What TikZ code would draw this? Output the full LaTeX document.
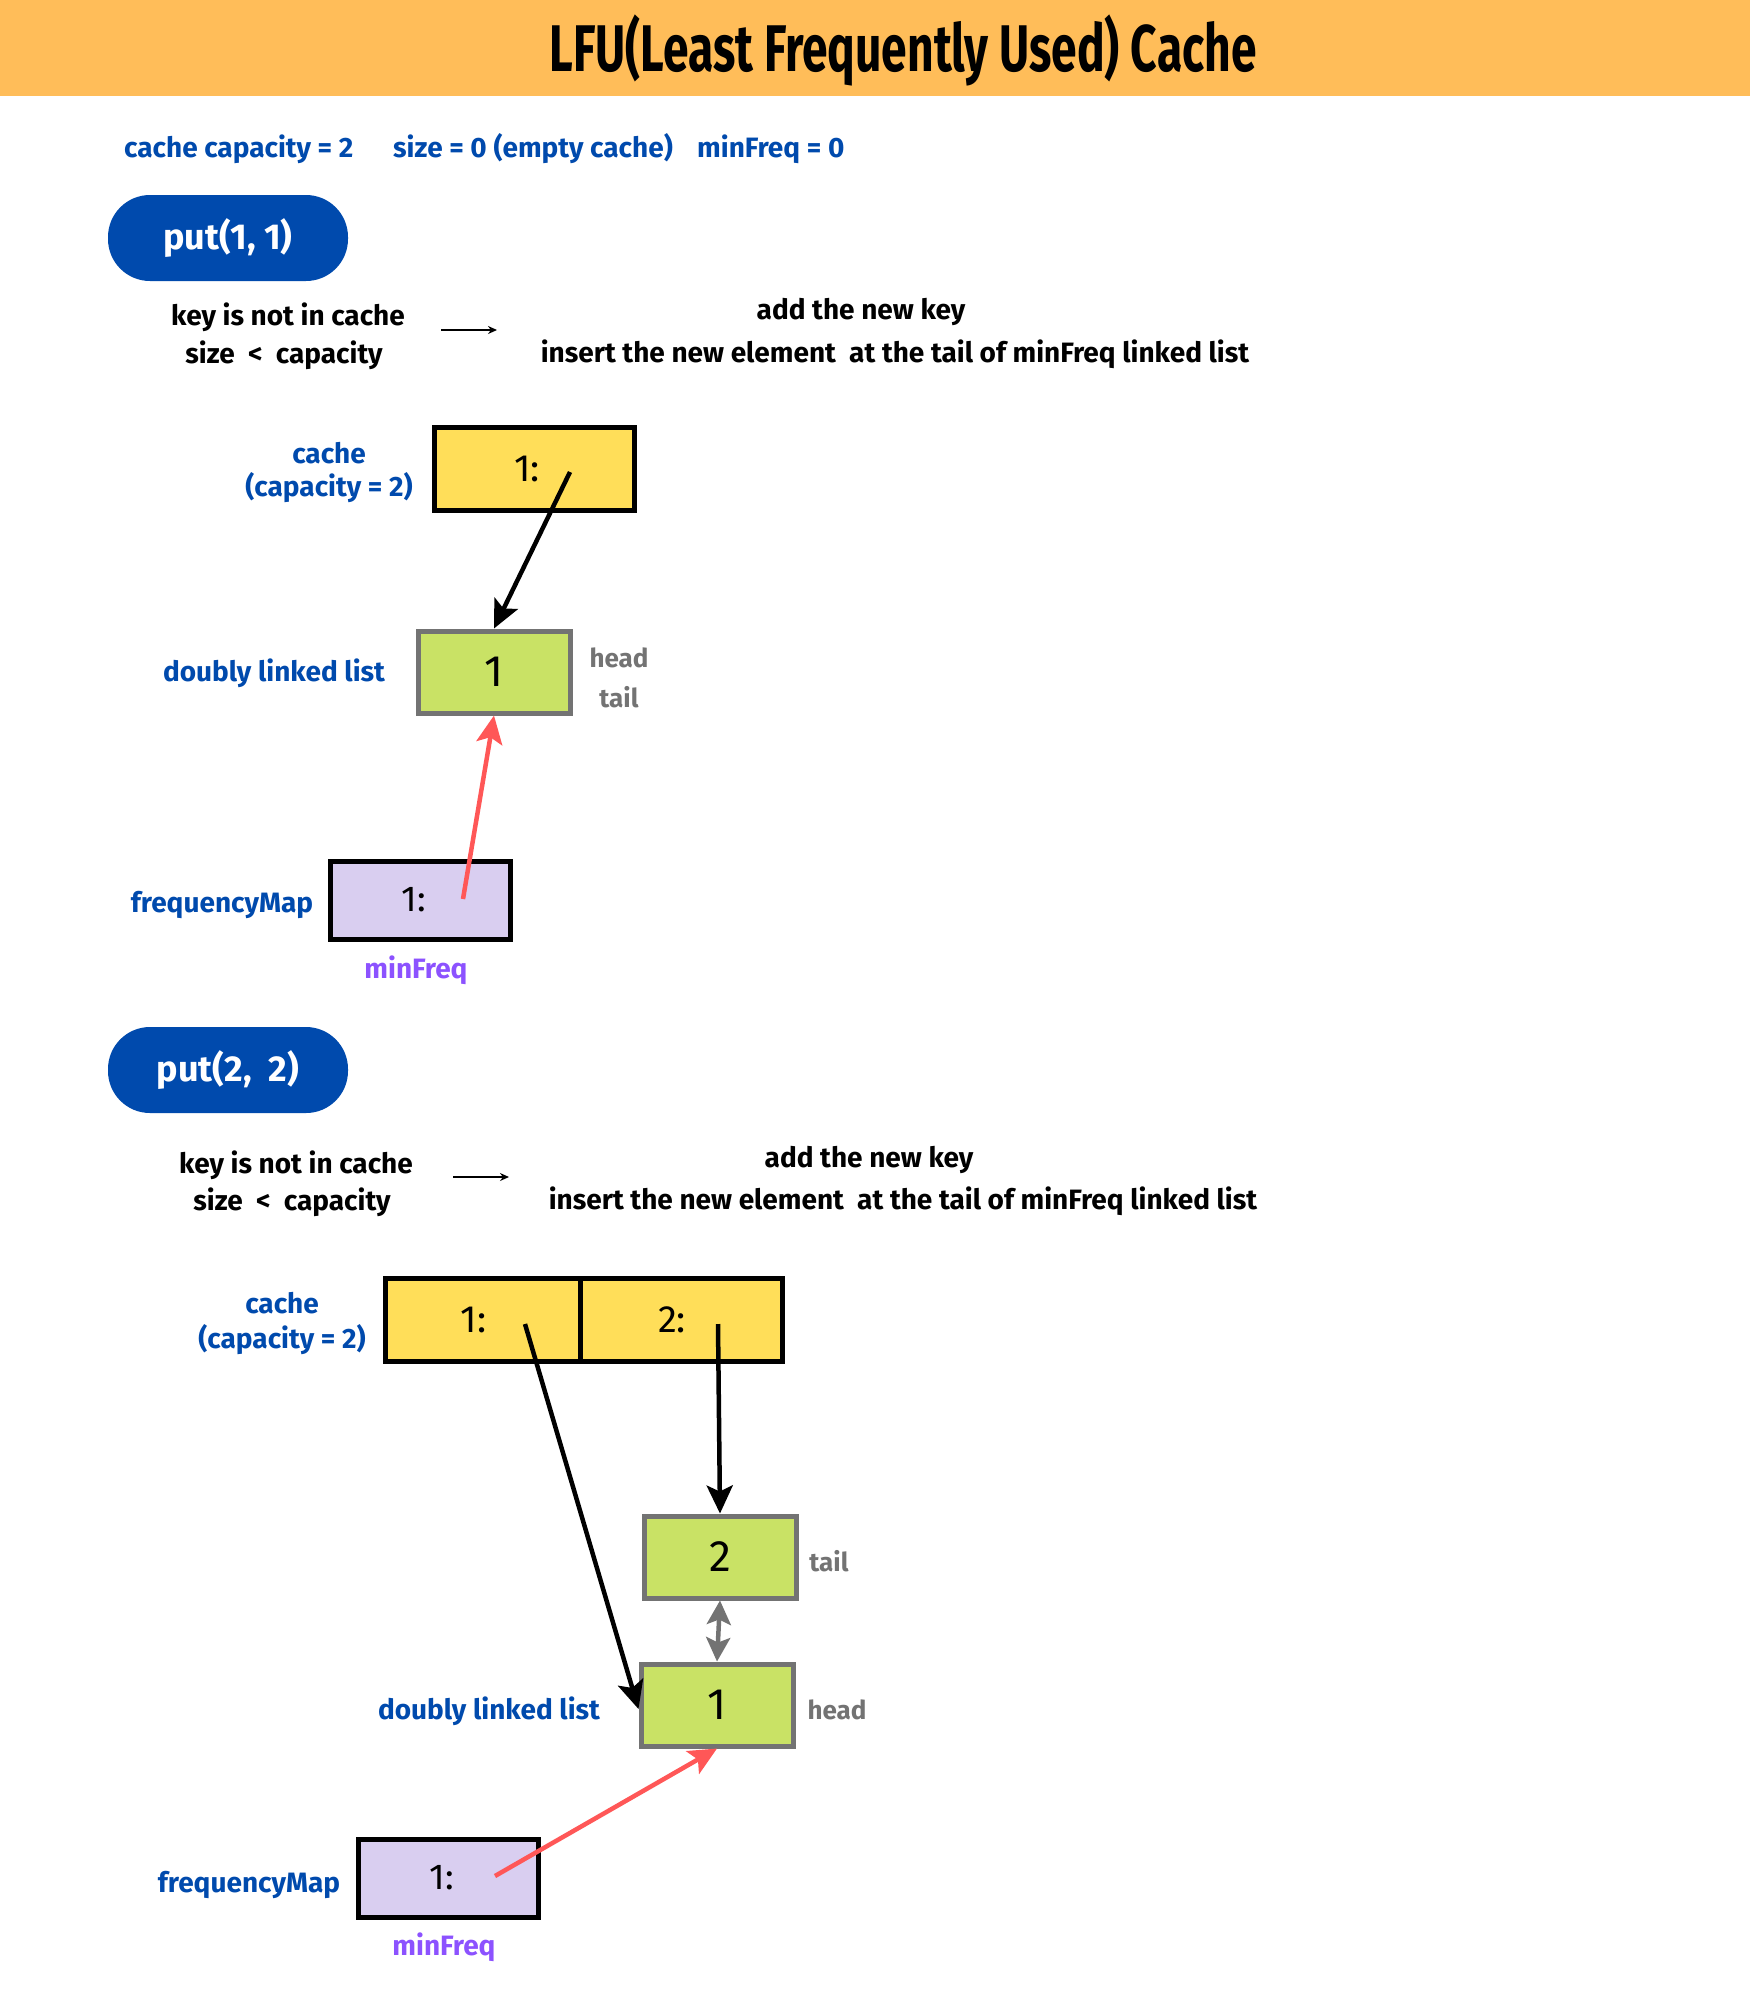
\documentclass[tikz,border=0pt]{standalone}
\usepackage{fontspec}
\setmainfont{Fira Sans}
\newfontfamily\titlefont[FakeStretch=0.7]{Fira Sans}
\usetikzlibrary{arrows.meta}
\definecolor{bar}{HTML}{FFBD59}
\definecolor{pill}{HTML}{004AAD}
\definecolor{lblue}{HTML}{004AAD}
\definecolor{yel}{HTML}{FFDE59}
\definecolor{grn}{HTML}{C9E265}
\definecolor{gbord}{HTML}{737373}
\definecolor{lav}{HTML}{D9CEF0}
\definecolor{redar}{HTML}{FF5757}
\definecolor{purp}{HTML}{8C52FF}
\tikzset{
  bluelbl/.style={text=lblue,font=\fontsize{28}{33}\selectfont\bfseries,align=center,inner sep=0pt},
  blacklbl/.style={text=black,font=\fontsize{28}{38}\selectfont\bfseries,align=center,inner sep=0pt},
  graylbl/.style={text=gbord,font=\fontsize{26}{30}\selectfont\bfseries,inner sep=0pt},
  pillbox/.style={fill=pill,rounded corners=42pt,minimum width=240pt,minimum height=86pt,text=white,font=\fontsize{36}{40}\selectfont\bfseries,inner sep=0pt},
  cachebox/.style={draw=black,line width=5pt,fill=yel,minimum height=83pt,font=\fontsize{38}{42}\selectfont,inner sep=0pt},
  listbox/.style={draw=gbord,line width=5pt,fill=grn,minimum width=152pt,minimum height=82pt,font=\fontsize{44}{48}\selectfont,inner sep=0pt},
  freqbox/.style={draw=black,line width=5pt,fill=lav,minimum width=180pt,minimum height=78pt,font=\fontsize{36}{40}\selectfont,inner sep=0pt},
  blackarrow/.style={draw=black,line width=4.5pt,-{Stealth[length=28pt,width=26pt,inset=6pt]}},
  redarrow/.style={draw=redar,line width=4.5pt,-{Stealth[length=28pt,width=26pt,inset=6pt]}},
  grayarrow/.style={draw=gbord,line width=4.5pt,{Stealth[length=24pt,width=24pt,inset=5pt]}-{Stealth[length=24pt,width=24pt,inset=5pt]}},
  thinarrow/.style={draw=black,line width=2pt,-{Stealth[length=9pt,width=8pt]}},
}
\begin{document}
\begin{tikzpicture}[x=1pt,y=-1pt]
\fill[white] (0,0) rectangle (1750,2000);
\useasboundingbox (0,0) rectangle (1750,2000);
\fill[bar] (0,0) rectangle (1750,96);
\node[font=\titlefont\fontsize{66}{70}\selectfont\bfseries,inner sep=0pt] (title) at (903,50) {LFU(Least Frequently Used) Cache};

\node[bluelbl,anchor=west] (cap) at (124,149) {cache capacity = 2};
\node[bluelbl,anchor=west] (sz) at (393,149) {size = 0 (empty cache)};
\node[bluelbl,anchor=west] (mf) at (697,149) {minFreq = 0};

% ---------- put(1,1)
\node[pillbox] (p1) at (228,238) {put(1, 1)};
\node[blacklbl] (c1a) at (288,317) {key is not in cache};
\node[blacklbl] (c1b) at (284,355) {size\ \ \textless\ \ capacity};
\coordinate (a1s) at (441,330);
\coordinate (a1e) at (497,330);
\draw[thinarrow] (a1s) -- (a1e);
\node[blacklbl] (r1a) at (861,312) {add the new key};
\node[blacklbl] (r1b) at (895,354) {insert the new element\ \ at the tail of minFreq linked list};

\node[cachebox,minimum width=200pt] (k1) at (534,469) {\hspace*{-14pt}\raisebox{-3pt}{1:}};
\node[bluelbl] (cl1a) at (329,453) {cache};
\node[bluelbl] (cl1b) at (329,488) {(capacity = 2)};

\node[listbox] (n1) at (494,672) {\raisebox{-3pt}{1}};
\node[graylbl] (h1) at (619,658) {head};
\node[graylbl] (t1) at (619,697) {tail};
\node[bluelbl] (dl1) at (274,673) {doubly linked list};

\node[freqbox] (f1) at (420,900) {\hspace*{-12pt}\raisebox{-3pt}{1:}};
\node[bluelbl] (fl1) at (222,905) {frequencyMap};
\node[bluelbl,text=purp] (mq1) at (416,970) {minFreq};

\coordinate (k1p) at (570,472);
\coordinate (f1p) at (463,899);
\draw[blackarrow] (k1p) -- (n1.north);
\draw[redarrow] (f1p) -- (n1.south);

% ---------- put(2,2)
\node[pillbox] (p2) at (228,1070) {put(2,\ \ 2)};
\node[blacklbl] (c2a) at (296,1165) {key is not in cache};
\node[blacklbl] (c2b) at (292,1202) {size\ \ \textless\ \ capacity};
\coordinate (a2s) at (453,1177);
\coordinate (a2e) at (509,1177);
\draw[thinarrow] (a2s) -- (a2e);
\node[blacklbl] (r2a) at (869,1160) {add the new key};
\node[blacklbl] (r2b) at (903,1201) {insert the new element\ \ at the tail of minFreq linked list};

\node[cachebox,minimum width=195pt] (k21) at (482.5,1319.5) {\hspace*{-18pt}\raisebox{-3pt}{1:}};
\node[cachebox,minimum width=202pt] (k22) at (681,1319.5) {\hspace*{-18pt}\raisebox{-3pt}{2:}};
\node[bluelbl] (cl2a) at (282,1303) {cache};
\node[bluelbl] (cl2b) at (282,1340) {(capacity = 2)};

\node[listbox] (n22) at (720,1557) {\raisebox{-3pt}{2}};
\node[listbox] (n21) at (717,1705) {\raisebox{-3pt}{1}};
\node[graylbl] (t2) at (829,1561) {tail};
\node[graylbl] (h2) at (837,1710) {head};
\node[bluelbl] (dl2) at (489,1711) {doubly linked list};

\node[freqbox] (f2) at (448,1878) {\hspace*{-12pt}\raisebox{-3pt}{1:}};
\node[bluelbl] (fl2) at (249,1885) {frequencyMap};
\node[bluelbl,text=purp] (mq2) at (444,1947) {minFreq};

\coordinate (k21p) at (525,1324);
\coordinate (k22p) at (718,1324);
\coordinate (f2p) at (495,1876);
\draw[blackarrow] (k21p) -- ([yshift=-4pt]n21.west);
\draw[blackarrow] (k22p) -- (n22.north);
\draw[grayarrow] (n22.south) -- (n21.north);
\draw[redarrow] (f2p) -- (n21.south);
\end{tikzpicture}
\end{document}
